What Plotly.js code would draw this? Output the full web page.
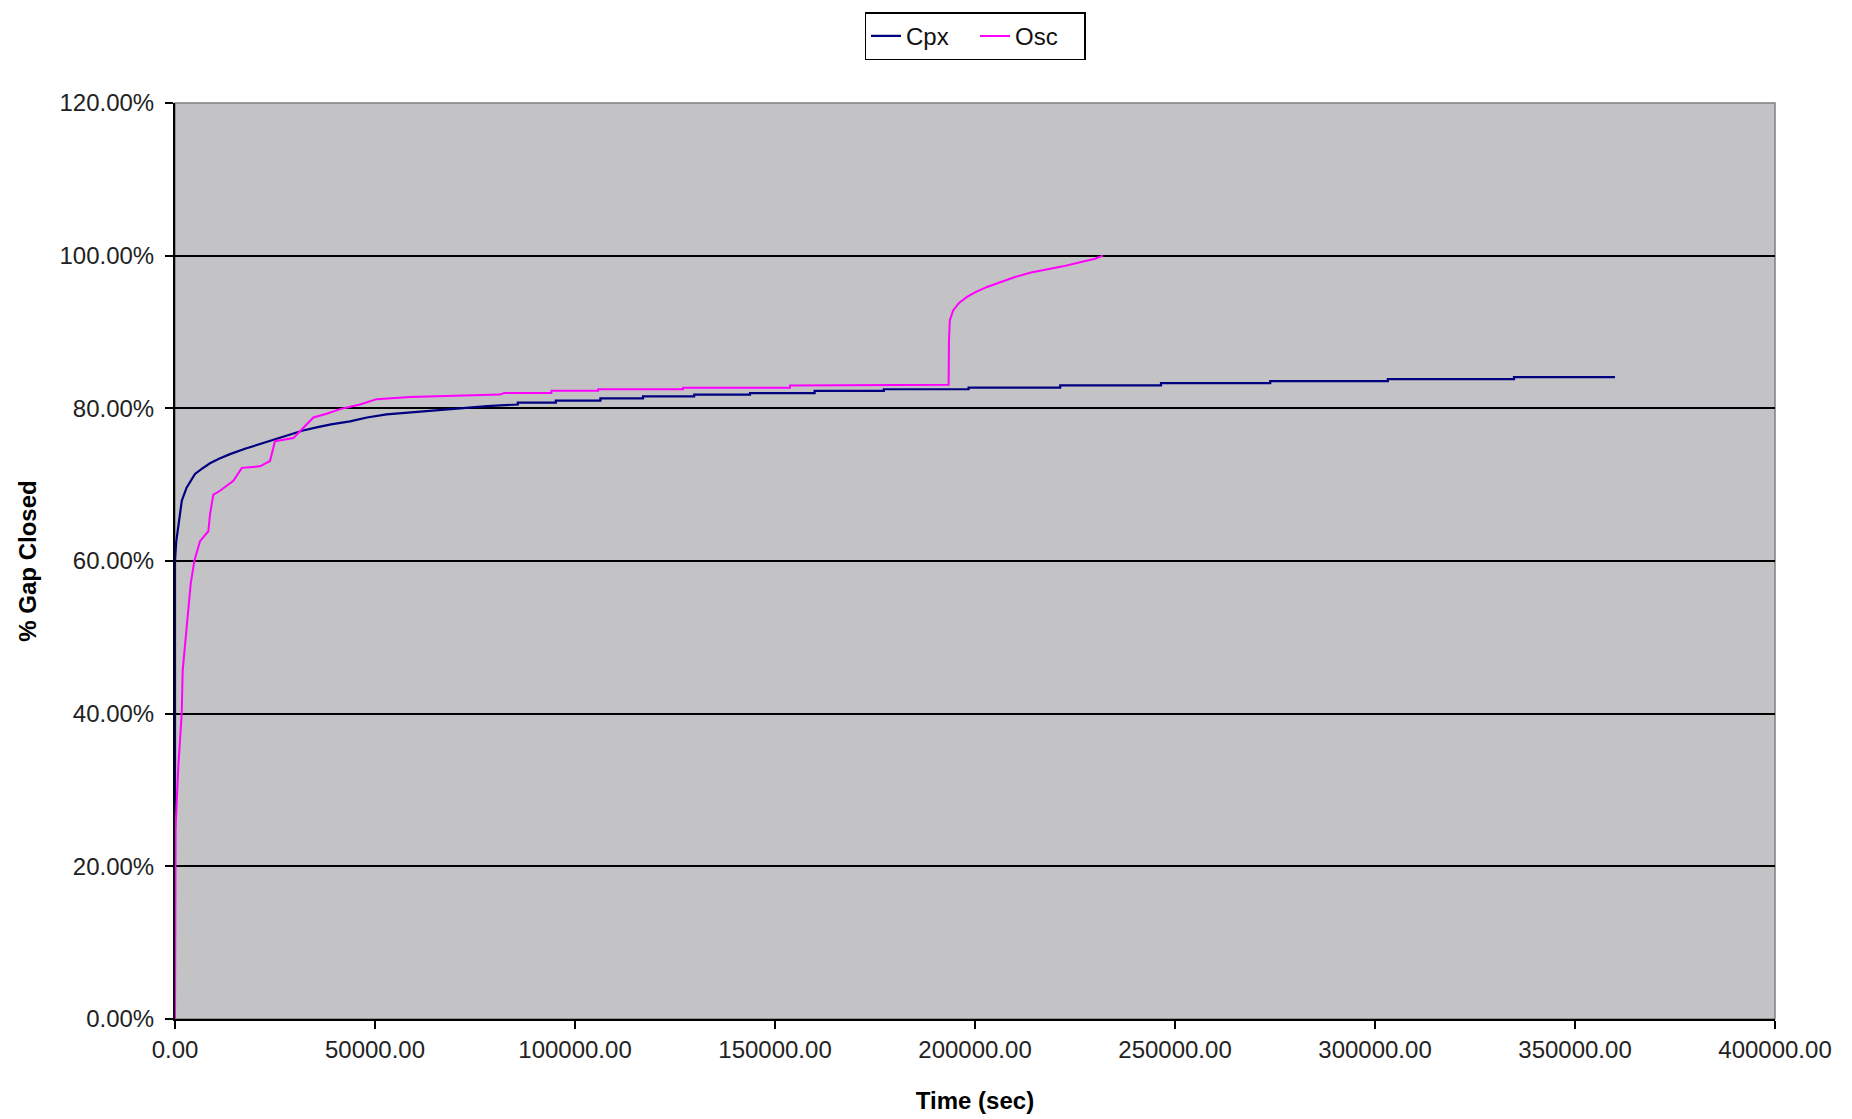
<!DOCTYPE html>
<html>
<head>
<meta charset="utf-8">
<script src="https://cdn.plot.ly/plotly-3.0.1.min.js"></script>
<style>
  html, body { margin: 0; padding: 0; background: #ffffff; }
  #chart { width: 1852px; height: 1119px; }
</style>
</head>
<body>
<div id="chart"></div>
<script>
// Cpx series (time in sec, % gap closed)
const cpxTime = [0, 0, 300, 800, 1700, 2900, 4000, 5000, 6500, 8750, 11000, 13750, 17500, 21250, 25000, 28750, 32000, 35400, 39000, 43750, 48000, 52900, 58000, 64600, 71250, 78000, 85700, 85700, 95200, 95200, 106350, 106350, 117000, 117000, 129800, 129800, 143750, 143750, 159900, 159900, 177200, 177200, 198400, 198400, 221300, 221300, 246500, 246500, 273800, 273800, 303200, 303200, 334750, 334750, 360000];
const cpxGap  = [25, 60, 62.5, 64.4, 67.9, 69.6, 70.6, 71.4, 72.0, 72.8, 73.4, 74.0, 74.7, 75.3, 76.0, 76.6, 77.1, 77.5, 77.9, 78.3, 78.8, 79.2, 79.4, 79.7, 80.0, 80.3, 80.5, 80.74, 80.74, 81.0, 81.0, 81.3, 81.3, 81.56, 81.56, 81.8, 81.8, 82.0, 82.0, 82.3, 82.3, 82.5, 82.5, 82.7, 82.7, 83.0, 83.0, 83.3, 83.3, 83.57, 83.57, 83.83, 83.83, 84.1, 84.1];

// Osc series
const oscTime = [0, 0, 150, 825, 1250, 1675, 1925, 2750, 3500, 3925, 4830, 6250, 8330, 8750, 9580, 11250, 14600, 16700, 21250, 23750, 25000, 29600, 31250, 34600, 37900, 41250, 46250, 50400, 58750, 71250, 81250, 82250, 94100, 94100, 105800, 105800, 127000, 127000, 153750, 153750, 193400, 193500, 193700, 194500, 196000, 198000, 200000, 203000, 206000, 210000, 214000, 218000, 222000, 226000, 230000, 232000];
const oscGap  = [0, 20.8, 25.2, 33, 37.4, 40, 45.7, 50.5, 54.4, 57, 60, 62.6, 63.9, 66.1, 68.7, 69.2, 70.5, 72.2, 72.4, 73.1, 75.7, 76.1, 77, 78.8, 79.3, 79.9, 80.5, 81.2, 81.5, 81.7, 81.8, 82.0, 82.0, 82.3, 82.3, 82.5, 82.5, 82.7, 82.7, 83.0, 83.1, 89, 91.5, 92.8, 93.8, 94.6, 95.2, 95.9, 96.5, 97.2, 97.8, 98.2, 98.6, 99.1, 99.6, 100];

const seriesNames = ['Cpx', 'Osc'];
const seriesColors = ['#000080', '#ff00ff'];

const yTicks = [0, 20, 40, 60, 80, 100, 120];
const yTickLabels = ['0.00%', '20.00%', '40.00%', '60.00%', '80.00%', '100.00%', '120.00%'];
const xTicks = [0, 50000, 100000, 150000, 200000, 250000, 300000, 350000, 400000];
const xTickLabels = ['0.00', '50000.00', '100000.00', '150000.00', '200000.00', '250000.00', '300000.00', '350000.00', '400000.00'];

const traces = [
  { x: cpxTime, y: cpxGap, name: seriesNames[0], type: 'scatter', mode: 'lines',
    line: { color: seriesColors[0], width: 2.2 } },
  { x: oscTime, y: oscGap, name: seriesNames[1], type: 'scatter', mode: 'lines',
    line: { color: seriesColors[1], width: 2 } }
];

const font = 'Liberation Sans, Arial, sans-serif';

const layout = {
  width: 1852, height: 1119,
  margin: { l: 175, r: 77, t: 101, b: 100 },
  paper_bgcolor: '#ffffff',
  plot_bgcolor: '#c3c2c5',
  font: { family: font, size: 24, color: '#000000' },
  showlegend: true,
  legend: {
    orientation: 'h', x: 0.5, xanchor: 'center', y: 1.099, yanchor: 'top',
    bgcolor: '#ffffff', bordercolor: '#000000', borderwidth: 1.5,
    font: { family: font, size: 24, color: '#111111' },
    entrywidth: 64, entrywidthmode: 'pixels',
    traceorder: 'normal'
  },
  xaxis: {
    range: [0, 400000], tickmode: 'array', tickvals: xTicks, ticktext: xTickLabels,
    showgrid: false, zeroline: false,
    showline: true, linecolor: '#000000', linewidth: 2,
    ticks: 'outside', ticklen: 8, tickcolor: '#000000', tickwidth: 2,
    tickfont: { family: font, size: 24, color: '#222222' },
    title: { text: '<b>Time (sec)</b>', font: { family: font, size: 24, color: '#000000' }, standoff: 30 }
  },
  yaxis: {
    range: [0, 120], tickmode: 'array', tickvals: yTicks, ticktext: yTickLabels,
    showgrid: true, gridcolor: '#000000', gridwidth: 2,
    zeroline: false,
    showline: true, linecolor: '#000000', linewidth: 2,
    ticks: 'outside', ticklen: 8, tickcolor: '#000000', tickwidth: 2,
    ticklabelstandoff: 6,
    tickfont: { family: font, size: 24, color: '#222222' },
    title: { text: '<b>% Gap Closed</b>', font: { family: font, size: 24, color: '#000000' }, standoff: 16 }
  },
  shapes: [
    { type: 'rect', xref: 'paper', yref: 'paper', x0: 0, x1: 1, y0: 0, y1: 1,
      line: { color: '#808080', width: 1.5 }, layer: 'below' }
  ]
};

Plotly.newPlot('chart', traces, layout, { displayModeBar: false, staticPlot: true });
</script>
</body>
</html>
